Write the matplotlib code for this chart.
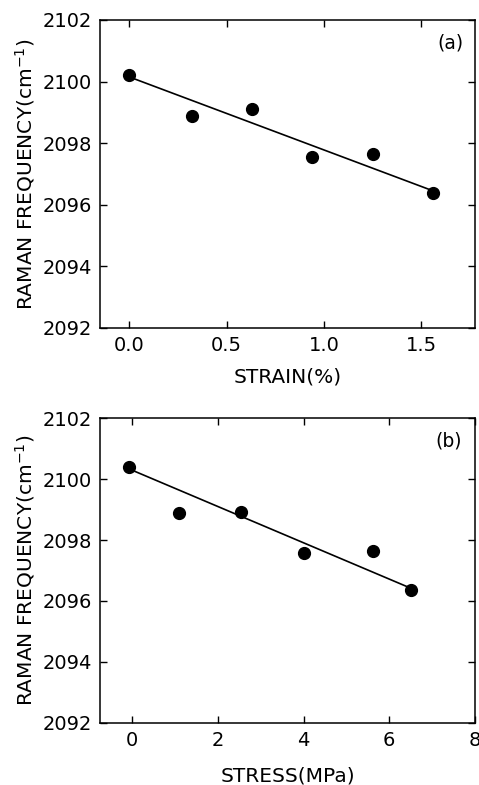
import numpy as np
import matplotlib
matplotlib.use('Agg')
import matplotlib.pyplot as plt

# panel (a): strain
strain = [0.0, 0.32, 0.63, 0.94, 1.25, 1.56]
freq_a = [2100.22, 2098.88, 2099.12, 2097.55, 2097.65, 2096.38]
fit_a_x = [0.0, 1.56]
fit_a_y = [2100.15, 2096.45]

# panel (b): stress
stress = [-0.07, 1.1, 2.53, 4.02, 5.62, 6.5]
freq_b = [2100.4, 2098.88, 2098.93, 2097.57, 2097.63, 2096.36]
fit_b_x = [-0.07, 6.5]
fit_b_y = [2100.33, 2096.42]

yticks = [2092, 2094, 2096, 2098, 2100, 2102]

plt.rcParams['font.family'] = ['DejaVu Sans']

fig = plt.figure(figsize=(4.79, 7.85), dpi=100)
ax1 = fig.add_axes([0.2088, 0.5822, 0.7829, 0.3924])
ax2 = fig.add_axes([0.2088, 0.0790, 0.7829, 0.3885])

def style(ax):
    ax.tick_params(direction='in', top=True, right=True, length=5, width=1,
                   labelsize=14, pad=6)
    for s in ax.spines.values():
        s.set_linewidth(1.1)
    ax.set_yticks(yticks)
    ax.set_ylim(2092, 2102)
    ax.set_ylabel('RAMAN FREQUENCY(cm$^{-1}$)', fontsize=14.5, labelpad=4)

ax1.plot(strain, freq_a, 'o', color='black', markersize=8.5)
ax1.plot(fit_a_x, fit_a_y, '-', color='black', linewidth=1.2)
style(ax1)
ax1.set_xlim(-0.15, 1.775)
ax1.set_xticks([0.0, 0.5, 1.0, 1.5])
ax1.set_xticklabels(['0.0', '0.5', '1.0', '1.5'])
ax1.set_xlabel('STRAIN(%)', fontsize=14.5, labelpad=9)
ax1.text(0.97, 0.955, '(a)', transform=ax1.transAxes, ha='right', va='top', fontsize=13.5)

ax2.plot(stress, freq_b, 'o', color='black', markersize=8.5)
ax2.plot(fit_b_x, fit_b_y, '-', color='black', linewidth=1.2)
style(ax2)
ax2.set_xlim(-0.75, 8)
ax2.set_xticks([0, 2, 4, 6, 8])
ax2.set_xlabel('STRESS(MPa)', fontsize=14.5, labelpad=12)
ax2.text(0.965, 0.955, '(b)', transform=ax2.transAxes, ha='right', va='top', fontsize=13.5)

fig.savefig('out.png', dpi=100)
